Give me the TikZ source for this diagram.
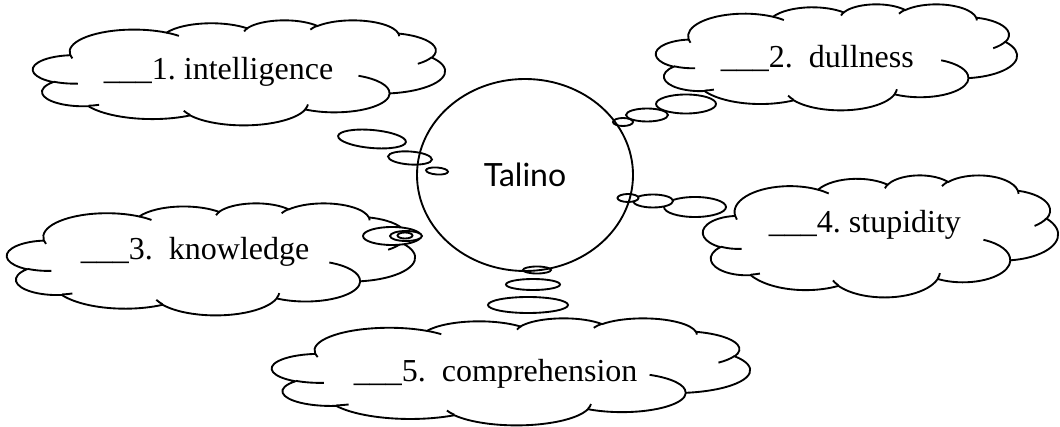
\documentclass[tikz,border=0pt]{standalone}
\usepackage{fontspec}
\setmainfont{Liberation Serif}
\newfontfamily\talinofont{Lato}
\usetikzlibrary{shapes.geometric}
\frenchspacing

\tikzset{
    puff/.style n args={4}{insert path={arc[x radius=#1, y radius=#2,
        start angle={atan2((#1)*sin(#3),(#2)*cos(#3))},
        delta angle={mod(atan2((#1)*sin(#3+#4),(#2)*cos(#3+#4))-atan2((#1)*sin(#3),(#2)*cos(#3))+720,360)}]}}
}

% left, top, width, height (in picture units)
\newcommand{\wordcloud}[4]{%
    \begin{scope}[shift={(#1,#2)}, xscale=#3/432, yscale=#4/432]
        \draw[fill=white] (39,143.7)
            [puff={67.53}{91.90}{-190.4875}{123.7805}]
            [puff={53.33}{72.67}{-144.1024}{89.9452}]
            [puff={43.65}{59.45}{-145.8079}{99.7230}]
            [puff={48.57}{65.95}{-130.9861}{117.2417}]
            [puff={53.33}{72.73}{-78.7089}{109.0269}]
            [puff={67.75}{92.20}{-46.2673}{130.2690}]
            [puff={57.85}{78.67}{0.6250}{114.0333}]
            [puff={67.52}{92.15}{22.4516}{115.1726}]
            [puff={77.20}{105.43}{66.2426}{75.7110}]
            [puff={43.60}{59.18}{-274.9421}{146.7356}]
            [puff={43.45}{59.45}{-246.8285}{152.5189}] -- cycle;
        \draw (46.93,261.77) [puff={43.45}{59.45}{86.742}{26.430}]
            (69.28,348.99) [puff={43.60}{59.18}{73.610}{11.447}]
            (164.78,390.90) [puff={67.52}{92.15}{137.624}{14.081}]
            (288.27,347.51) [puff={67.52}{92.15}{6.453}{15.998}]
            (341.29,229.54) [puff={57.85}{78.67}{-70.292}{70.917}]
            (417.98,153.54) [puff={53.33}{72.73}{30.318}{27.752}]
            (383.24,54.26) [puff={48.57}{65.95}{-13.744}{14.859}]
            (290.78,39.52) [puff={48.57}{65.95}{-149.181}{18.195}]
            (221.41,47.20) [puff={43.65}{59.45}{-163.494}{17.686}]
            (140.00,51.92) [puff={67.53}{91.90}{-66.707}{12.319}]
            (41.27,157.89) [puff={67.53}{91.90}{157.654}{11.858}];
    \end{scope}}

\begin{document}
\begin{tikzpicture}[x=0.75pt, y=-0.75pt, line width=1.4pt,
    answer/.style={anchor=base west, inner sep=0pt, font=\fontsize{24}{28}\selectfont},
    bubble/.style={draw, fill=white}]

    \useasboundingbox (0,0) rectangle (1060,427);

    \wordcloud{33}{20}{412}{105}
    \wordcloud{656}{4}{361}{106}
    \wordcloud{7}{203}{408}{112}
    \wordcloud{703}{175}{355}{122}
    \wordcloud{272}{318}{478}{107}

    \node[answer] (word-1) at (103,80) {\_\_\_1. intelligence};
    \node[answer] (word-2) at (720,68) {\_\_\_2.~ dullness};
    \node[answer] (word-3) at (80,260) {\_\_\_3.~ knowledge};
    \node[answer] (word-4) at (768,233) {\_\_\_4. stupidity};
    \node[answer] (word-5) at (353,382) {\_\_\_5.~ comprehension};

    \draw[bubble, rotate around={-5:(372,139)}] (372,139) ellipse [x radius=34, y radius=9];
    \draw[bubble, rotate around={-4:(410,158)}] (410,158) ellipse [x radius=22, y radius=6.5];
    \draw[bubble, rotate around={-4:(437,171)}] (437,171) ellipse [x radius=11, y radius=3.5];

    \draw[bubble] (686,104) ellipse [x radius=30, y radius=9.5];
    \draw[bubble] (647,115) ellipse [x radius=21, y radius=6.5];
    \draw[bubble] (623,122) ellipse [x radius=10, y radius=4];

    \draw[bubble] (695,207) ellipse [x radius=31, y radius=10];
    \draw[bubble] (653,201) ellipse [x radius=20, y radius=6.5];
    \draw[bubble] (628,198) ellipse [x radius=10.5, y radius=4];

    \draw[bubble] (392,236) ellipse [x radius=29, y radius=9];
    \draw[bubble] (406,236) ellipse [x radius=16, y radius=5];
    \draw[bubble] (405,235.5) ellipse [x radius=7.5, y radius=3];

    \draw[bubble] (528,305) ellipse [x radius=40, y radius=8];
    \draw[bubble] (533,284.5) ellipse [x radius=27, y radius=5.5];
    \draw[bubble] (537,270) ellipse [x radius=14, y radius=3.5];

    \node[draw, ellipse, minimum width=162pt, minimum height=144pt,
        font=\talinofont\fontsize{24}{28}\selectfont] (talino) at (525,175) {Talino};

\end{tikzpicture}
\end{document}
